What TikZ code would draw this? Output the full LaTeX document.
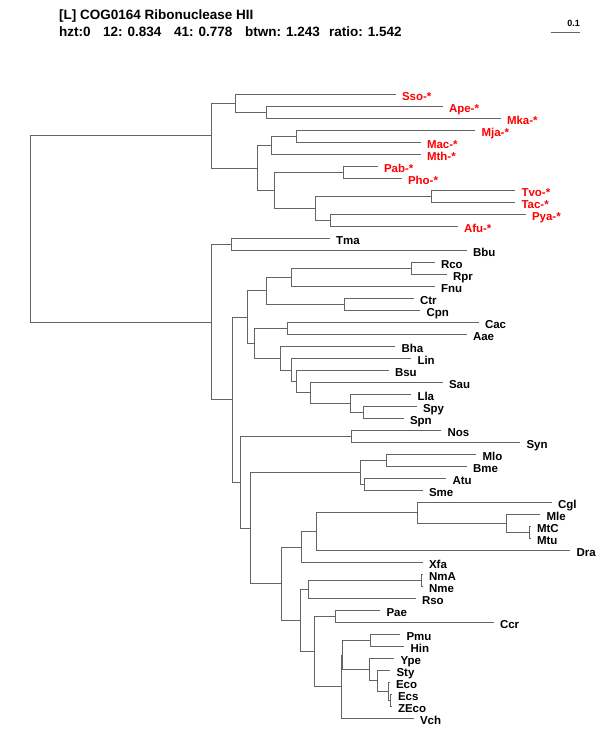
\documentclass[tikz,border=0pt]{standalone}
\usepackage{fontspec}
\setmainfont{Liberation Sans}
\definecolor{branch}{RGB}{100,100,100}
\definecolor{arch}{RGB}{255,0,0}
\tikzset{
  br/.style={draw=branch, line width=1.7pt},
  lab/.style={anchor=base west, inner sep=0pt, xshift=6.3pt, yshift=-6pt,
    font=\fontsize{11.5}{12}\selectfont\bfseries},
  rlab/.style={lab, text=arch},
  ttl/.style={anchor=base west, inner sep=0pt, font=\fontsize{13.5}{14}\selectfont\bfseries},
}
\newcommand\leafpt[4]{\coordinate (#1) at (#2,#3); \node[lab] (#1-l) at (#1) {#4};}
\newcommand\rleafpt[4]{\coordinate (#1) at (#2,#3); \node[rlab] (#1-l) at (#1) {#4};}
\begin{document}
\begin{tikzpicture}[x=1pt,y=-1pt]
\fill[white] (0,0) rectangle (600,750);
\useasboundingbox (0,0) rectangle (600,750);

% header
\node[ttl] (title) at (59,19) {[L] COG0164 Ribonuclease HII};
\node[ttl] (h1) at (59,36) {hzt:0};
\node[ttl] (h2) at (103,36) {12: 0.834};
\node[ttl] (h3) at (174,36) {41: 0.778};
\node[ttl] (h4) at (245,36) {btwn: 1.243};
\node[ttl] (h5) at (329,36) {ratio: 1.542};
\coordinate (sb1) at (550.5,32.5);
\coordinate (sb2) at (579.5,32.5);
\draw[br] (sb1) -- (sb2);
\node[anchor=base east, inner sep=0pt, font=\fontsize{9}{10}\selectfont\bfseries] (sbl) at (580,26) {0.1};

% leaves
\rleafpt{Sso}{395.5}{94.5}{Sso-*}
\rleafpt{Ape}{442.5}{106.5}{Ape-*}
\rleafpt{Mka}{500.5}{118.5}{Mka-*}
\rleafpt{Mja}{475}{130.5}{Mja-*}
\rleafpt{Mac}{420.5}{142.5}{Mac-*}
\rleafpt{Mth}{420.5}{154.5}{Mth-*}
\rleafpt{Pab}{377.5}{166.5}{Pab-*}
\rleafpt{Pho}{401.5}{178.5}{Pho-*}
\rleafpt{Tvo}{515}{190.5}{Tvo-*}
\rleafpt{Tac}{515}{202.5}{Tac-*}
\rleafpt{Pya}{525.5}{214.5}{Pya-*}
\rleafpt{Afu}{457.5}{226.5}{Afu-*}
\leafpt{Tma}{329.5}{238.5}{Tma}
\leafpt{Bbu}{466.5}{250.5}{Bbu}
\leafpt{Rco}{434.5}{262.5}{Rco}
\leafpt{Rpr}{446.5}{274.5}{Rpr}
\leafpt{Fnu}{434.5}{286.5}{Fnu}
\leafpt{Ctr}{413.5}{298.5}{Ctr}
\leafpt{Cpn}{420}{310.5}{Cpn}
\leafpt{Cac}{478.5}{322.5}{Cac}
\leafpt{Aae}{466.5}{334.5}{Aae}
\leafpt{Bha}{395}{346.5}{Bha}
\leafpt{Lin}{411}{358.5}{Lin}
\leafpt{Bsu}{388.5}{370.5}{Bsu}
\leafpt{Sau}{442.5}{382.5}{Sau}
\leafpt{Lla}{411}{394.5}{Lla}
\leafpt{Spy}{416.5}{406.5}{Spy}
\leafpt{Spn}{403.5}{418.5}{Spn}
\leafpt{Nos}{441}{430.5}{Nos}
\leafpt{Syn}{520}{442.5}{Syn}
\leafpt{Mlo}{476}{454.5}{Mlo}
\leafpt{Bme}{466.5}{466.5}{Bme}
\leafpt{Atu}{446}{478.5}{Atu}
\leafpt{Sme}{422.5}{490.5}{Sme}
\leafpt{Cgl}{551.5}{502.5}{Cgl}
\leafpt{Mle}{540}{514.5}{Mle}
\leafpt{MtC}{530.5}{526.5}{MtC}
\leafpt{Mtu}{530.5}{538.5}{Mtu}
\leafpt{Dra}{570}{550.5}{Dra}
\leafpt{Xfa}{422.5}{562.5}{Xfa}
\leafpt{NmA}{422.5}{574.5}{NmA}
\leafpt{Nme}{422.5}{586.5}{Nme}
\leafpt{Rso}{415.5}{598.5}{Rso}
\leafpt{Pae}{380}{610.5}{Pae}
\leafpt{Ccr}{493.5}{622.5}{Ccr}
\leafpt{Pmu}{400}{634.5}{Pmu}
\leafpt{Hin}{404}{646.5}{Hin}
\leafpt{Ype}{394}{658.5}{Ype}
\leafpt{Sty}{390}{670.5}{Sty}
\leafpt{Eco}{389.5}{682.5}{Eco}
\leafpt{Ecs}{391.5}{694.5}{Ecs}
\leafpt{ZEco}{391.5}{706.5}{ZEco}
\leafpt{Vch}{413.5}{718.5}{Vch}

% internal nodes
\coordinate (R) at (30.5,228.5);
\coordinate (ARC) at (211.5,135.5);
\coordinate (A1) at (235.5,103.5);
\coordinate (A1b) at (266.5,112.5);
\coordinate (A2) at (257.5,168.5);
\coordinate (A3) at (271.5,145.5);
\coordinate (A3a) at (296.5,136.5);
\coordinate (A4) at (274.5,190.5);
\coordinate (A5) at (343.5,172.5);
\coordinate (A6) at (315.5,208.5);
\coordinate (A7) at (431.5,196.5);
\coordinate (A8) at (330.5,220.5);
\coordinate (BAC) at (211.5,322.5);
\coordinate (B1) at (231.5,244.5);
\coordinate (B2) at (232.5,399.5);
\coordinate (B3) at (247.5,317.5);
\coordinate (B4) at (266.5,290.5);
\coordinate (B5) at (291.5,277.5);
\coordinate (B6) at (411.5,268.5);
\coordinate (B7) at (344.5,304.5);
\coordinate (B10) at (254.5,343.5);
\coordinate (B11) at (287.5,328.5);
\coordinate (B12) at (280.5,358.5);
\coordinate (B13) at (291.5,370.5);
\coordinate (B14) at (296.5,381.5);
\coordinate (B15) at (310.5,392.5);
\coordinate (B16) at (350.5,403.5);
\coordinate (B17) at (363.5,412.5);
\coordinate (B20) at (240.5,482.5);
\coordinate (B21) at (351.5,436.5);
\coordinate (B22) at (250.5,528.5);
\coordinate (B23) at (360.5,472.5);
\coordinate (B24) at (386.5,460.5);
\coordinate (B25) at (364.5,484.5);
\coordinate (B30) at (281.5,583.5);
\coordinate (B31) at (301.5,547.5);
\coordinate (B32) at (316.5,531.5);
\coordinate (B33) at (417.5,512.5);
\coordinate (B34) at (506.5,523.5);
\coordinate (B35) at (529.5,532.5);
\coordinate (B40) at (300.5,620.5);
\coordinate (B41) at (308.5,589.5);
\coordinate (B43) at (421.5,580.5);
\coordinate (B42) at (314.5,651.5);
\coordinate (B44) at (335.5,616.5);
\coordinate (An) at (341.5,686.5);
\coordinate (Bn) at (342.5,655.5);
\coordinate (PH) at (370.5,640.5);
\coordinate (Yn) at (369.5,669.5);
\coordinate (Sn) at (377.5,680.5);
\coordinate (En) at (388.5,691.5);
\coordinate (E2) at (390.5,700.5);

% branches: child1 -| parent |- child2
\foreach \p/\a/\b in {R/ARC/BAC, ARC/A1/A2, A1/Sso/A1b, A1b/Ape/Mka, A2/A3/A4,
  A3/A3a/Mth, A3a/Mja/Mac, A4/A5/A6, A5/Pab/Pho, A6/A7/A8, A7/Tvo/Tac, A8/Pya/Afu,
  BAC/B1/B2, B1/Tma/Bbu, B2/B3/B20, B3/B4/B10, B4/B5/B7, B5/B6/Fnu, B6/Rco/Rpr,
  B7/Ctr/Cpn, B10/B11/B12, B11/Cac/Aae, B12/Bha/B13, B13/Lin/B14, B14/Bsu/B15,
  B15/Sau/B16, B16/Lla/B17, B17/Spy/Spn, B20/B21/B22, B21/Nos/Syn, B22/B23/B30,
  B23/B24/B25, B24/Mlo/Bme, B25/Atu/Sme, B30/B31/B40, B31/B32/Xfa, B32/B33/Dra,
  B33/Cgl/B34, B34/Mle/B35, B35/MtC/Mtu, B40/B41/B42, B41/B43/Rso, B43/NmA/Nme,
  B42/B44/An, B44/Pae/Ccr, An/Bn/Vch, Bn/PH/Yn, PH/Pmu/Hin, Yn/Ype/Sn, Sn/Sty/En,
  En/Eco/E2, E2/Ecs/ZEco}
  \draw[br, line join=miter] (\a) -| (\p) |- (\b);
\end{tikzpicture}
\end{document}
